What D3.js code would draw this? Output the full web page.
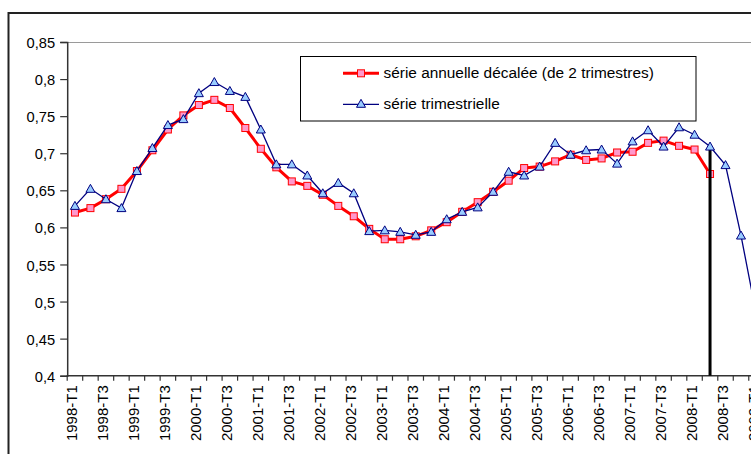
<!DOCTYPE html>
<html><head><meta charset="utf-8">
<script src="https://cdn.jsdelivr.net/npm/d3@7/dist/d3.min.js"></script>
<style>
html,body{margin:0;padding:0;background:#fff;overflow:hidden}
text{font-family:"Liberation Sans",Arial,sans-serif;fill:#000}
</style></head>
<body>
<svg id="chart" width="751" height="454"></svg>
<script>
const categories = [
"1998-T1","1998-T2","1998-T3","1998-T4","1999-T1","1999-T2","1999-T3","1999-T4",
"2000-T1","2000-T2","2000-T3","2000-T4","2001-T1","2001-T2","2001-T3","2001-T4",
"2002-T1","2002-T2","2002-T3","2002-T4","2003-T1","2003-T2","2003-T3","2003-T4",
"2004-T1","2004-T2","2004-T3","2004-T4","2005-T1","2005-T2","2005-T3","2005-T4",
"2006-T1","2006-T2","2006-T3","2006-T4","2007-T1","2007-T2","2007-T3","2007-T4",
"2008-T1","2008-T2","2008-T3","2008-T4","2009-T1","2009-T2","2009-T3","2009-T4"];
const tickLabels = categories.filter((c,i)=>i%2===0);

const annualShifted = [0.620,0.626,0.638,0.652,0.676,0.704,0.732,0.751,0.765,0.772,0.761,0.734,
0.706,0.681,0.662,0.656,0.644,0.629,0.615,0.598,0.584,0.584,0.588,0.596,
0.607,0.621,0.634,0.648,0.663,0.680,0.682,0.689,0.698,0.691,0.693,0.701,
0.702,0.714,0.717,0.710,0.705,0.672];
const quarterly = [0.629,0.652,0.638,0.626,0.676,0.707,0.738,0.746,0.781,0.796,0.784,0.776,
0.732,0.685,0.685,0.670,0.646,0.660,0.646,0.595,0.596,0.594,0.590,0.594,
0.611,0.621,0.627,0.648,0.675,0.670,0.682,0.714,0.698,0.704,0.705,0.686,
0.716,0.731,0.709,0.735,0.725,0.709,0.684,0.589,0.481];
const yTicks = [0.4,0.45,0.5,0.55,0.6,0.65,0.7,0.75,0.8,0.85];
const seriesNames = ["série annuelle décalée (de 2 trimestres)","série trimestrielle"];
const markerCategory = "2008-T2";

(function(){
const svg = d3.select("#chart");
const pLeft = 67.2, pTop = 42, pBottom = 375.7, step = 15.49;
const x = d3.scaleBand().domain(categories).range([pLeft, pLeft + step*categories.length]).padding(0);
const y = d3.scaleLinear().domain([0.4,0.85]).range([pBottom, pTop]);
const bw = x.bandwidth();
const cx = c => x(c) + bw/2;

// outer frame
svg.append("rect").attr("x",8.5).attr("y",13).attr("width",900).attr("height",600)
  .attr("fill","#fff").attr("stroke","#222").attr("stroke-width",2);

// plot area top border
svg.append("line").attr("x1",pLeft).attr("x2",900).attr("y1",y(0.85)+0.5).attr("y2",y(0.85)+0.5)
  .attr("stroke","#9a9a9a").attr("stroke-width",1.2);

// y axis
const yAxis = d3.axisLeft(y).tickValues(yTicks).tickSize(7).tickPadding(5)
  .tickFormat(d => String(+d.toFixed(2)).replace(".",","));
const yg = svg.append("g").attr("transform",`translate(${pLeft},0)`).call(yAxis);
yg.select(".domain").attr("stroke","#333").attr("stroke-width",1.5);
yg.selectAll(".tick line").attr("stroke","#333").attr("stroke-width",1.2);
yg.selectAll(".tick text").attr("font-size","14.7px").attr("dy","0.38em")
  .attr("font-family","Liberation Sans, Arial, sans-serif").attr("fill","#000");

// x axis
const xg = svg.append("g");
xg.append("line").attr("x1",pLeft-0.5).attr("x2",900).attr("y1",pBottom).attr("y2",pBottom)
  .attr("stroke","#333").attr("stroke-width",1.5);
const bounds = categories.map(c=>x(c)).concat([x(categories[categories.length-1])+bw]);
xg.selectAll("line.tick").data(bounds).enter().append("line")
  .attr("class","tick").attr("x1",d=>d).attr("x2",d=>d)
  .attr("y1",pBottom).attr("y2",pBottom+5).attr("stroke","#333").attr("stroke-width",1.2);
xg.selectAll("text").data(tickLabels).enter().append("text")
  .attr("transform",c=>`translate(${cx(c)+2.3},${pBottom+9.5}) rotate(-90)`)
  .attr("text-anchor","end").attr("font-size","15px").text(c=>c);

// red series
const redData = annualShifted.map((v,i)=>({c:categories[i],v}));
const blueData = quarterly.map((v,i)=>({c:categories[i],v}));
const line = d3.line().x(d=>cx(d.c)).y(d=>y(d.v));
svg.append("path").datum(redData).attr("d",line).attr("fill","none")
  .attr("stroke","#ff0000").attr("stroke-width",3).attr("stroke-linejoin","round");
const sq = 7;
svg.selectAll("rect.red").data(redData).enter().append("rect").attr("class","red")
  .attr("x",d=>cx(d.c)-sq/2).attr("y",d=>y(d.v)-sq/2).attr("width",sq).attr("height",sq)
  .attr("fill","#ff99cc").attr("stroke","#ff0000").attr("stroke-width",1);

// vertical black marker line
const mi = categories.indexOf(markerCategory);
svg.append("line").attr("x1",cx(markerCategory)).attr("x2",cx(markerCategory))
  .attr("y1",y(quarterly[mi])).attr("y2",y(0.4)).attr("stroke","#000").attr("stroke-width",3);

// blue series
svg.append("path").datum(blueData).attr("d",line).attr("fill","none")
  .attr("stroke","#000080").attr("stroke-width",1.3);
const tri = (px,py)=>`M${px},${py-4.5}L${px+4.5},${py+3.5}L${px-4.5},${py+3.5}Z`;
svg.selectAll("path.blue").data(blueData).enter().append("path").attr("class","blue")
  .attr("d",d=>tri(cx(d.c),y(d.v)))
  .attr("fill","#99ccff").attr("stroke","#000080").attr("stroke-width",1);

// legend
const lg = svg.append("g");
lg.append("rect").attr("x",300.5).attr("y",56.5).attr("width",395.5).attr("height",64.5)
  .attr("fill","#fff").attr("stroke","#000").attr("stroke-width",1);
const ly = [73.3,104.3];
lg.append("line").attr("x1",343).attr("x2",379).attr("y1",ly[0]).attr("y2",ly[0])
  .attr("stroke","#ff0000").attr("stroke-width",3);
lg.append("rect").attr("x",361-sq/2).attr("y",ly[0]-sq/2).attr("width",sq).attr("height",sq)
  .attr("fill","#ff99cc").attr("stroke","#ff0000").attr("stroke-width",1);
lg.append("line").attr("x1",343).attr("x2",379).attr("y1",ly[1]).attr("y2",ly[1])
  .attr("stroke","#000080").attr("stroke-width",1.3);
lg.append("path").attr("d",tri(361,ly[1]-0.5)).attr("fill","#99ccff").attr("stroke","#000080").attr("stroke-width",1);
lg.selectAll("text").data(seriesNames).enter().append("text")
  .attr("x",383.5).attr("y",(d,i)=>ly[i]+4.8).attr("font-size","15.4px").text(d=>d);
})();
</script>
</body></html>
